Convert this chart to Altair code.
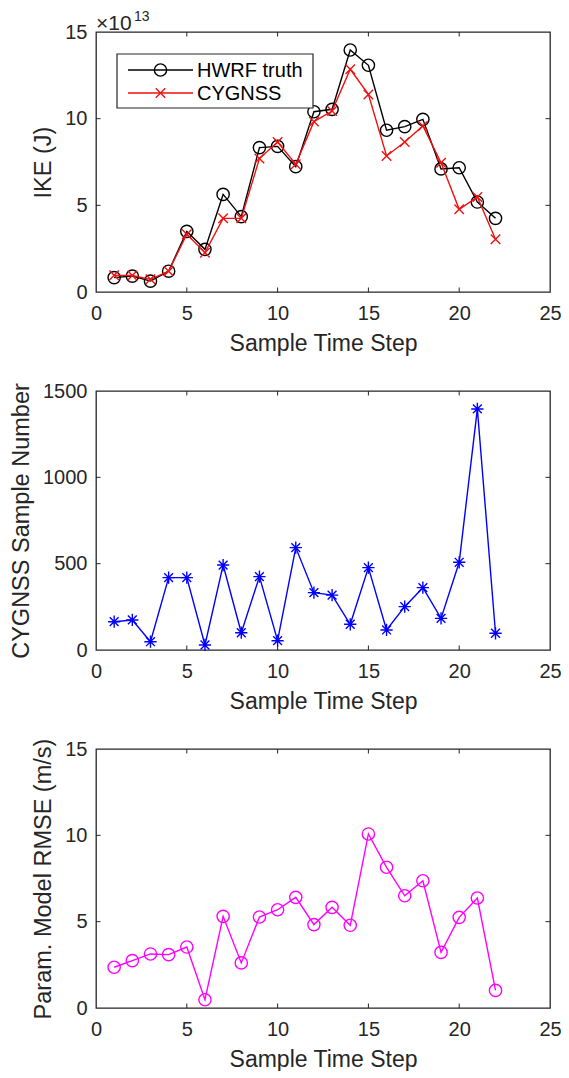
import altair as alt
import pandas as pd

# ---------------- data ----------------
steps = list(range(1, 23))
ike_hwrf = [0.83, 0.92, 0.63, 1.2, 3.5, 2.46, 5.63, 4.35, 8.33, 8.4, 7.23, 10.4,
            10.54, 13.96, 13.08, 9.33, 9.54, 9.96, 7.1, 7.17, 5.19, 4.25]
ike_cygnss = [0.96, 0.95, 0.73, 1.2, 3.33, 2.27, 4.25, 4.25, 7.7, 8.65, 7.37, 9.83,
              10.44, 12.85, 11.4, 7.85, 8.65, 9.58, 7.46, 4.77, 5.48, 3.04]
sample_number = [164, 174, 48, 419, 419, 29, 492, 100, 425, 54, 593, 332,
                 318, 149, 477, 116, 251, 361, 183, 508, 1396, 97]
rmse = [2.36, 2.74, 3.13, 3.09, 3.53, 0.48, 5.31, 2.61, 5.27, 5.69, 6.41, 4.83,
        5.83, 4.79, 10.08, 8.15, 6.5, 7.37, 3.22, 5.25, 6.37, 1.02]

x_ticks = [0, 5, 10, 15, 20, 25]
ike_ticks = [0, 5, 10, 15]
num_ticks = [0, 500, 1000, 1500]
rmse_ticks = [0, 5, 10, 15]

series_names = ["HWRF truth", "CYGNSS"]
x_title = "Sample Time Step"
y_titles = ["IKE (J)", "CYGNSS Sample Number", "Param. Model RMSE (m/s)"]

# ---------------- style ----------------
FONT = "Liberation Sans"
AX = "#262626"
W = 454
HEIGHTS = [260, 259, 259]
TICK = 4.5
X_SHAPE = "M-1,-1L1,1M-1,1L1,-1"
STAR_SHAPE = "M-1,0L1,0M0,-1L0,1M-0.72,-0.72L0.72,0.72M-0.72,0.72L0.72,-0.72"

xscale = alt.Scale(domain=[0, 25], nice=False, zero=False)


def xaxis():
    return alt.Axis(values=x_ticks, title=x_title, grid=False, domain=False,
                    ticks=False, tickSize=0, labelPadding=11, titlePadding=9,
                    labelFlush=False, labelOverlap=False, labelFont=FONT,
                    titleFont=FONT, labelFontSize=20, titleFontSize=23,
                    labelColor=AX, titleColor=AX, titleFontWeight="normal",
                    format="d")


def yaxis(vals, title):
    return alt.Axis(values=vals, title=title, grid=False, domain=False,
                    ticks=False, tickSize=0, labelPadding=9, titlePadding=9,
                    labelFlush=False, labelOverlap=False, labelFont=FONT,
                    titleFont=FONT, labelFontSize=20, titleFontSize=23.5,
                    labelColor=AX, titleColor=AX, titleFontWeight="normal",
                    format="d")


def panel(layers_data, yfield, ydomain, yvals, ytitle, h, extra=()):
    """layers_data: list of (df, color, shape, size)."""
    ys = alt.Scale(domain=ydomain, nice=False)
    X = alt.X("step:Q", scale=xscale, axis=xaxis())
    Y = alt.Y(f"{yfield}:Q", scale=ys, axis=yaxis(yvals, ytitle))
    layers = []
    for df, color, shape, size in layers_data:
        layers.append(alt.Chart(df).mark_line(color=color, strokeWidth=1.4).encode(x=X, y=Y))
        layers.append(alt.Chart(df).mark_point(shape=shape, filled=False, color=color,
                                               size=size, strokeWidth=1.4, opacity=1
                                               ).encode(x=X, y=Y))
    # inward MATLAB-style ticks on all four sides
    inner_x = pd.DataFrame({"step": x_ticks[1:-1]})
    inner_y = pd.DataFrame({yfield: yvals[1:-1]})
    layers += [
        alt.Chart(inner_x).mark_rule(color=AX, strokeWidth=1).encode(
            x=X, y=alt.value(h), y2=alt.value(h - TICK)),
        alt.Chart(inner_x).mark_rule(color=AX, strokeWidth=1).encode(
            x=X, y=alt.value(0), y2=alt.value(TICK)),
        alt.Chart(inner_y).mark_rule(color=AX, strokeWidth=1).encode(
            y=Y, x=alt.value(0), x2=alt.value(TICK)),
        alt.Chart(inner_y).mark_rule(color=AX, strokeWidth=1).encode(
            y=Y, x=alt.value(W), x2=alt.value(W - TICK)),
    ]
    layers += list(extra)
    return alt.layer(*layers).properties(width=W, height=h)


# ---------------- panel 1 extras: exponent + legend ----------------
one = pd.DataFrame({"a": [0]})
exp_a = alt.Chart(one).mark_text(text="×10", font=FONT, fontSize=21, color=AX,
                                 align="left", baseline="alphabetic").encode(
    x=alt.value(0), y=alt.value(-2))
exp_b = alt.Chart(one).mark_text(text="13", font=FONT, fontSize=14, color=AX,
                                 align="left", baseline="alphabetic").encode(
    x=alt.value(38), y=alt.value(-11))

leg_df = pd.DataFrame({"name": series_names})
leg_box = alt.Chart(one).mark_rect(fill="white", stroke=AX, strokeWidth=1.2).encode(
    x=alt.value(21), x2=alt.value(217), y=alt.value(22), y2=alt.value(76))
legend = [leg_box]
for i, (color, shape, size, yy) in enumerate([("black", "circle", 150, 38),
                                              ("#f01010", X_SHAPE, 90, 61)]):
    row = leg_df.iloc[[i]]
    legend += [
        alt.Chart(row).mark_rule(color=color, strokeWidth=1.4).encode(
            x=alt.value(32), x2=alt.value(97), y=alt.value(yy)),
        alt.Chart(row).mark_point(shape=shape, filled=False, color=color, size=size,
                                  strokeWidth=1.4, opacity=1).encode(
            x=alt.value(64.5), y=alt.value(yy)),
        alt.Chart(row).mark_text(font=FONT, fontSize=20, color="black", align="left",
                                 baseline="middle").encode(
            x=alt.value(101), y=alt.value(yy + 1), text="name:N"),
    ]

df_h = pd.DataFrame({"step": steps, "v": ike_hwrf})
df_c = pd.DataFrame({"step": steps, "v": ike_cygnss})
panel1 = panel([(df_h, "black", "circle", 150), (df_c, "#f01010", X_SHAPE, 90)],
               "v", [0, 15], ike_ticks, y_titles[0], HEIGHTS[0],
               extra=[exp_a, exp_b] + legend)

df_n = pd.DataFrame({"step": steps, "n": sample_number})
panel2 = panel([(df_n, "#0000ff", STAR_SHAPE, 150)], "n", [0, 1500], num_ticks,
               y_titles[1], HEIGHTS[1])

df_r = pd.DataFrame({"step": steps, "r": rmse})
panel3 = panel([(df_r, "#ff00ff", "circle", 150)], "r", [0, 15], rmse_ticks,
               y_titles[2], HEIGHTS[2])

chart = alt.vconcat(panel1, panel2, panel3, spacing=99).resolve_scale(
    x="independent", y="independent"
).properties(
    bounds="flush",
    autosize=alt.AutoSizeParams(type="none"),
    padding={"left": 88, "top": 24, "right": 11, "bottom": 1039},
    background="white",
).configure_view(stroke=AX, strokeWidth=1.3)

chart.save("out.html", embed_options={"renderer": "svg", "actions": False})
